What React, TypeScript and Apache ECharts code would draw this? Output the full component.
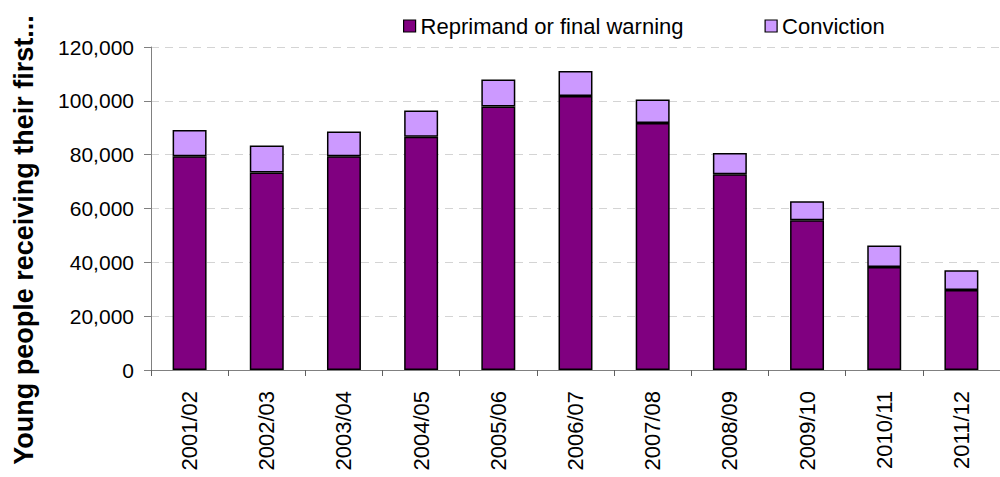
import React, { useEffect, useRef } from "react";
import * as echarts from "echarts";

const categories = ["2001/02", "2002/03", "2003/04", "2004/05", "2005/06", "2006/07", "2007/08", "2008/09", "2009/10", "2010/11", "2011/12"];
const reprimand = [79400, 73400, 79400, 86700, 97900, 101800, 91800, 72700, 55600, 38300, 29700];
const conviction = [9800, 10000, 9200, 9700, 10000, 9300, 8700, 7900, 7100, 8000, 7400];
const seriesNames = ["Reprimand or final warning", "Conviction"];
const yAxisTitle = "Young people receiving their first...";

const FONT = "'Liberation Sans', Arial, sans-serif";

export default function App() {
  const ref = useRef<HTMLDivElement>(null);
  useEffect(() => {
    if (!ref.current) return;
    const chart = echarts.init(ref.current, null, { renderer: "svg" });
    chart.setOption({
      animation: false,
      backgroundColor: "#ffffff",
      textStyle: { fontFamily: FONT },
      legend: {
        data: seriesNames,
        left: 398,
        top: 10,
        icon: "rect",
        itemWidth: 12,
        itemHeight: 12,
        itemGap: 81,
        textStyle: { fontFamily: FONT, fontSize: 22, color: "#000" },
        itemStyle: { borderColor: "#000", borderWidth: 1.2 },
      },
      graphic: [
        {
          type: "text",
          x: 24,
          y: 240,
          rotation: Math.PI / 2,
          style: {
            text: yAxisTitle,
            fontFamily: FONT,
            fontSize: 27,
            fontWeight: "bold",
            fill: "#000",
            align: "center",
            verticalAlign: "middle",
          },
        },
      ],
      grid: { left: 151, right: -8, top: 47, bottom: 107, containLabel: false },
      xAxis: {
        type: "category",
        data: categories,
        boundaryGap: true,
        axisLine: { lineStyle: { color: "#808080", width: 1 } },
        axisTick: { show: true, length: 6, lineStyle: { color: "#606060" } },
        axisLabel: {
          rotate: 90,
          margin: 21,
          fontFamily: FONT,
          fontSize: 22,
          color: "#000",
          interval: 0,
        },
      },
      yAxis: {
        type: "value",
        min: 0,
        max: 120000,
        interval: 20000,
        axisLine: { show: true, lineStyle: { color: "#808080", width: 1 } },
        axisTick: { show: true, length: 7, lineStyle: { color: "#808080" } },
        splitLine: { show: true, lineStyle: { color: "#d4d4d4", type: [8, 6], width: 1 } },
        axisLabel: {
          margin: 17,
          fontFamily: FONT,
          fontSize: 21,
          color: "#000",
          formatter: (v: number) => v.toLocaleString("en-US"),
        },
      },
      series: [
        {
          name: seriesNames[0],
          type: "bar",
          stack: "total",
          data: reprimand,
          barWidth: "44%",
          itemStyle: { color: "#800080", borderColor: "#000", borderWidth: 1.5 },
        },
        {
          name: seriesNames[1],
          type: "bar",
          stack: "total",
          data: conviction,
          barWidth: "44%",
          itemStyle: { color: "#cc99ff", borderColor: "#000", borderWidth: 1.5 },
        },
      ],
    });
    return () => chart.dispose();
  }, []);
  return (
    <div
      ref={ref}
      style={{ position: "fixed", left: 0, top: 0, width: 1000, height: 477 }}
    />
  );
}
